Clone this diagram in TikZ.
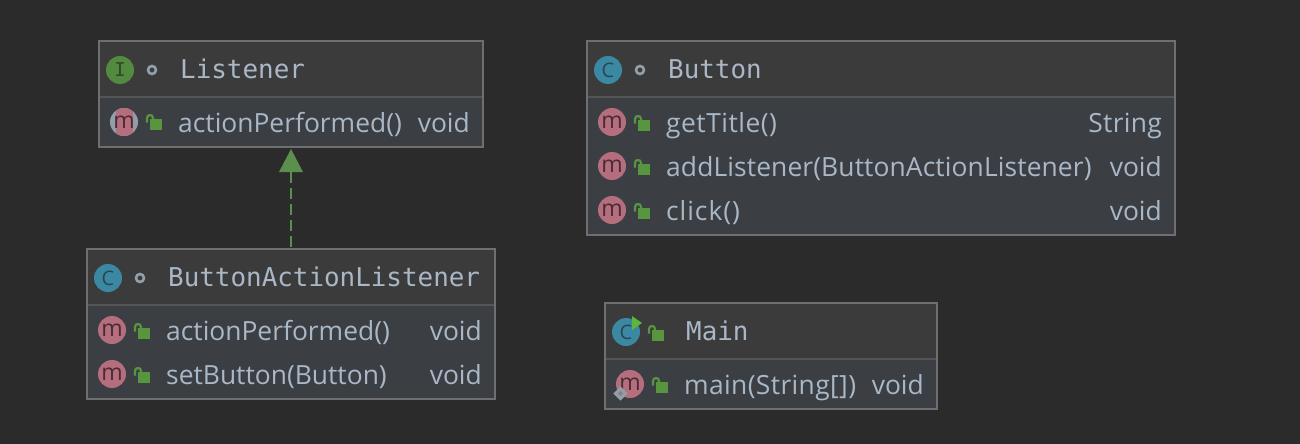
\documentclass[tikz,border=0pt]{standalone}
\usepackage{fontspec}
\setmainfont{Open Sans}
\newfontfamily\hdrfont{DejaVu Sans Mono}
\definecolor{bgc}{HTML}{2B2B2B}
\definecolor{hdrc}{HTML}{3C3B3B}
\definecolor{bodyc}{HTML}{3B3F43}
\definecolor{edgec}{HTML}{6F6F6F}
\definecolor{divc}{HTML}{555555}
\definecolor{txtc}{HTML}{A9B7C6}
\definecolor{methc}{HTML}{B56E7E}
\definecolor{clsc}{HTML}{3B88A3}
\definecolor{ifc}{HTML}{548A40}
\definecolor{lockc}{HTML}{57963F}
\definecolor{arrc}{HTML}{5B8F4E}
\definecolor{glyphcol}{HTML}{2A4654}
\definecolor{ringc}{HTML}{929FA8}
\definecolor{runc}{HTML}{5DB53C}
\definecolor{methdark}{HTML}{4A2A33}
\definecolor{ifdark}{HTML}{2F4A28}
\definecolor{diamc}{HTML}{8E7D84}
\tikzset{
  x=1pt,y=-1pt,
  hdrbox/.style={fill=hdrc,draw=none},
  bodybox/.style={fill=bodyc,draw=none},
  frame/.style={draw=edgec,line width=2pt,fill=none,inner sep=0pt,outer sep=0pt},
  hdrtext/.style={font=\hdrfont\fontsize{25.9}{26}\selectfont,text=txtc,anchor=base west,inner sep=0pt},
  bodytext/.style={font=\fontsize{26.4}{26}\selectfont,text=txtc,anchor=base west,inner sep=0pt},
  bodytype/.style={font=\fontsize{26.4}{26}\selectfont,text=txtc,anchor=base east,inner sep=0pt},
  spaced/.style={font=\fontsize{26.4}{26}\selectfont\addfontfeature{LetterSpace=#1}},
  icon/.style={circle,minimum size=28pt,inner sep=0pt,outer sep=0pt},
  methicon/.style={icon,fill=methc},
  clsicon/.style={icon,fill=clsc},
  ificon/.style={icon,fill=ifc},
  glyphm/.style={font=\fontsize{23}{23}\selectfont,text=methdark},
  glyphk/.style={font=\fontsize{20}{20}\selectfont,text=glyphcol},
  glyphi/.style={font=\hdrfont\fontsize{19}{19}\selectfont,text=ifdark},
  pkgdot/.style={draw=ringc,line width=2.6pt,fill=none,circle,minimum size=8pt,inner sep=0pt},
  impl/.style={draw=arrc,line width=2.5pt,dash pattern=on 11pt off 5pt},
  implhead/.style={fill=arrc,draw=none},
  pics/lockpic/.style={code={
    \fill[lockc] (-5,-4) rectangle (7,7);
    \draw[lockc,line width=2.2pt] (-8,-0.5) -- (-8,-5) .. controls (-8,-9) and (-2,-9) .. (-2,-5) -- (-2,-4);
  }}
}
\begin{document}
\begin{tikzpicture}
\useasboundingbox[fill=bgc] (0,0) rectangle (1300,444);
% ---- boxes
\fill[hdrbox] (99,41) rectangle (483,97);
\fill[bodybox] (99,97) rectangle (483,147);
\draw[divc,line width=2pt] (99,97) -- (483,97);
\node[frame,minimum width=384pt,minimum height=106pt] (listener) at (291,94) {};
\fill[hdrbox] (587,41) rectangle (1175,97);
\fill[bodybox] (587,97) rectangle (1175,235);
\draw[divc,line width=2pt] (587,97) -- (1175,97);
\node[frame,minimum width=588pt,minimum height=194pt] (button) at (881,138) {};
\fill[hdrbox] (87,249) rectangle (495,305);
\fill[bodybox] (87,305) rectangle (495,399);
\draw[divc,line width=2pt] (87,305) -- (495,305);
\node[frame,minimum width=408pt,minimum height=150pt] (bal) at (291,324) {};
\fill[hdrbox] (605,303) rectangle (937,359);
\fill[bodybox] (605,359) rectangle (937,409);
\draw[divc,line width=2pt] (605,359) -- (937,359);
\node[frame,minimum width=332pt,minimum height=106pt] (mainc) at (771,356) {};
% ---- connector
\coordinate (headbase) at (291,172);
\coordinate (headtip) at ([yshift=-2pt]listener.south);
\draw[impl] (headbase) -- (bal.north);
\fill[implhead] (279,172) -- (headtip) -- (303,172) -- cycle;
% ---- Listener
\node[ificon] (iL) at (120,70) {};
\node[glyphi] at (iL) {I};
\node[pkgdot] (dL) at (152,70) {};
\node[hdrtext] (tL) at (180,78) {Listener};
\node[icon,fill=ringc] (mLb) at (124,122) {};
\begin{scope}
\clip (116,108) rectangle (133,136);
\fill[methc] (124,122) circle[radius=14];
\end{scope}
\node[glyphm] (mL) at (124,122) {m};
\pic at (155,123) {lockpic};
\node[bodytext] (aL) at (178,132) {actionPerformed()};
\node[bodytype] (vL) at (470,132) {void};
% ---- Button
\node[clsicon] (iB) at (608,70) {};
\node[glyphk] at (iB) {C};
\node[pkgdot] (dB) at (640,70) {};
\node[hdrtext] (tB) at (668,78) {Button};
\node[methicon] (m1) at (612,122) {};
\node[glyphm] at (m1) {m};
\pic at (643,124) {lockpic};
\node[bodytext,spaced=1.9] (a1) at (666,132) {getTitle()};
\node[bodytype,spaced=1.2] (v1) at (1162,132) {String};
\node[methicon] (m2) at (612,166) {};
\node[glyphm] at (m2) {m};
\pic at (643,168) {lockpic};
\node[bodytext,spaced=0.4] (a2) at (666,176) {addListener(ButtonActionListener)};
\node[bodytype] (v2) at (1162,176) {void};
\node[methicon] (m3) at (612,210) {};
\node[glyphm] at (m3) {m};
\pic at (643,212) {lockpic};
\node[bodytext,spaced=3.6] (a3) at (666,220) {click()};
\node[bodytype] (v3) at (1162,220) {void};
% ---- ButtonActionListener
\node[clsicon] (iA) at (108,278) {};
\node[glyphk] at (iA) {C};
\node[pkgdot] (dA) at (140,278) {};
\node[hdrtext] (tA) at (168,286) {ButtonActionListener};
\node[methicon] (m4) at (112,330) {};
\node[glyphm] at (m4) {m};
\pic at (143,332) {lockpic};
\node[bodytext] (a4) at (166,340) {actionPerformed()};
\node[bodytype] (v4) at (482,340) {void};
\node[methicon] (m5) at (112,374) {};
\node[glyphm] at (m5) {m};
\pic at (143,376) {lockpic};
\node[bodytext] (a5) at (166,384) {setButton(Button)};
\node[bodytype] (v5) at (482,384) {void};
% ---- Main
\node[clsicon] (iM) at (626,332) {};
\node[glyphk] at (iM) {C};
\fill[runc] (632,316) -- (642,323) -- (632,330) -- cycle;
\pic at (657,334) {lockpic};
\node[hdrtext] (tM) at (686,340) {Main};
\node[methicon] (m6) at (630,384) {};
\node[glyphm] at (m6) {m};
\draw[ringc,line width=3pt,fill=diamc] (620.5,388.5) -- (625.5,393.5) -- (620.5,398.5) -- (615.5,393.5) -- cycle;
\pic at (661,386) {lockpic};
\node[bodytext,spaced=1.4] (a6) at (684,394) {main(String[])};
\node[bodytype] (v6) at (924,394) {void};
\end{tikzpicture}
\end{document}
